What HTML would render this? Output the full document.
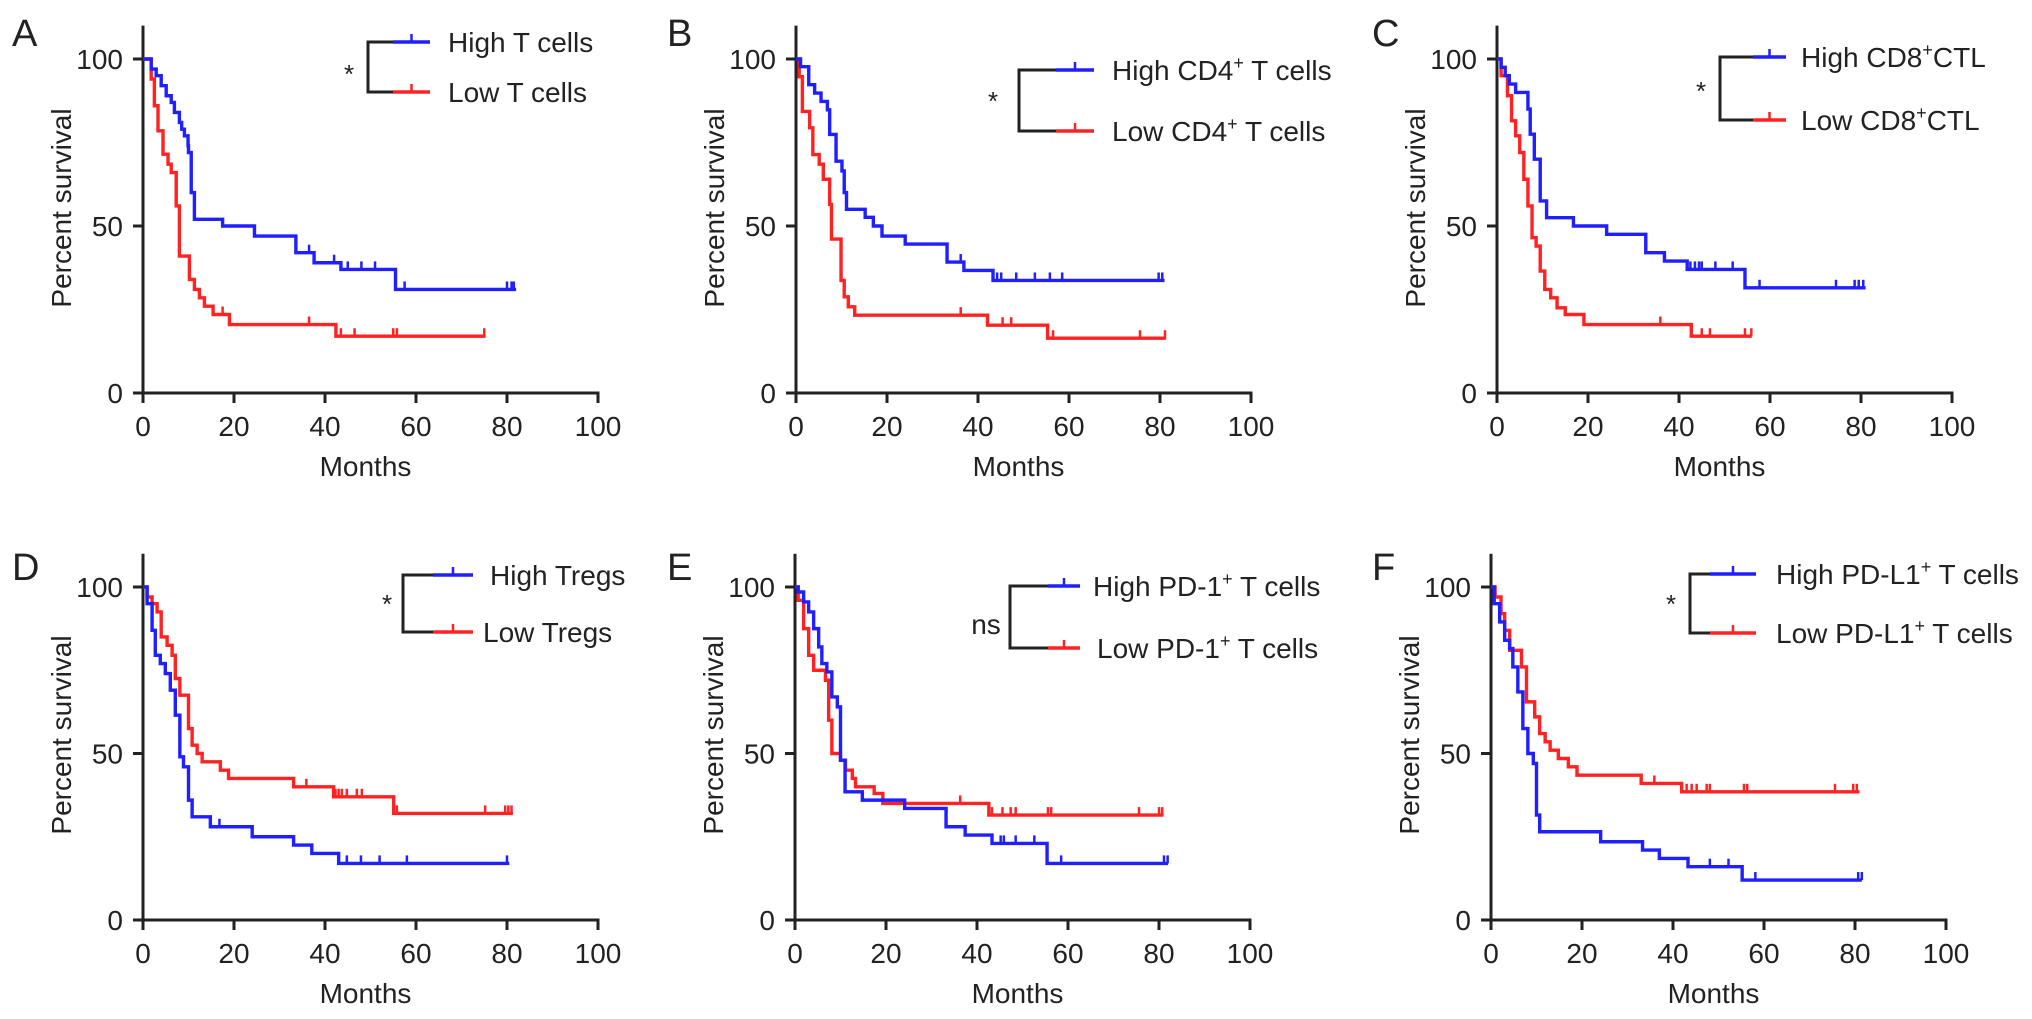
<!DOCTYPE html>
<html><head><meta charset="utf-8">
<style>
html,body{margin:0;padding:0;background:#fff;}
svg{display:block;font-family:"Liberation Sans",Arial,sans-serif;}
</style></head>
<body>
<svg id="fig" width="2032" height="1019" viewBox="0 0 2032 1019" xmlns="http://www.w3.org/2000/svg"></svg>
<script>
// ---- Panel A: T cells ----
const aHighT=[1.8,2.9,4,5.1,6.2,6.9,8,8.5,9.1,9.9,10,10.6,11.3,17.5,24.5,33.6,37.6,43.5,55.5];
const aHighS=[97,95,92,89,87,84,81,79,77,74,72,60,52,50,47,42,39,37,31];
const aHighC=[36.5,42,45,48,51,57.5,80,81,81.5];
const aHighEnd=[82];
const aLowT=[1.8,2.5,3.3,4.4,5.5,6.2,7.3,8,10.2,11.3,12.4,13.5,15.4,19,42.4];
const aLowS=[94,86,78.5,71.5,68.5,66,56,41,34,31,28.5,26,23.5,20.5,17];
const aLowC=[17.5,36.5,43.5,46.5,55,55.8,75];
const aLowEnd=[75.3];
// ---- Panel B: CD4+ ----
const bHighT=[1,2.8,4.1,5.5,6.9,7.4,8.8,10.1,10.6,11.1,15.2,17,18.9,24,33.2,36.9,43.3];
const bHighS=[97.7,92.3,89.8,87.3,84.8,77.4,69.4,66.5,60,55,52.6,50,47,44.6,39.2,36.7,33.7];
const bHighC=[36.2,44.2,45.1,48.4,52.5,55.8,58.5,79.7,80.5];
const bHighEnd=[81];
const bLowT=[0.7,1.4,3,3.7,5.1,6,7.4,7.8,9.9,10.6,11.5,12.9,42.1,55.3];
const bLowS=[94.7,84.3,79.4,71.4,68.5,64,56.5,46.1,33.7,28.8,25.8,23.3,20.3,16.4];
const bLowC=[36.2,45.4,47.3,56.5,75.6,81.1];
const bLowEnd=[81.3];
// ---- Panel C: CD8+ CTL ----
const cHighT=[0.9,1.8,2.7,4.1,6.8,7.3,8.2,9.5,10.9,16.8,24.1,32.7,36.8,41.8,54.5];
const cHighS=[97.5,95,92.5,90,85,77.5,70,57.5,52.5,50,47.5,42,39.5,37,31.5];
const cHighC=[42.5,43.5,44.4,45,48,51.8,57.7,74.5,78.6,79.5,80.5];
const cHighEnd=[81];
const cLowT=[0.9,2.3,3.2,4.1,5,5.9,6.8,7.7,8.6,9.5,10.5,11.8,13.2,15,19.1,42.7];
const cLowS=[95,89,81.5,77,72,64,56,46.5,44,36.5,31,28.5,25.5,23.5,20.5,17];
const cLowC=[35.9,45,46.8,54.5,55.9];
const cLowEnd=[56];
// ---- Panel D: Tregs ----
const dHighT=[0.9,2,2.7,3.8,4.9,6,7.1,8.1,8.9,10,10.8,14.8,24,33.1,37.1,43];
const dHighS=[95,87,79.5,77,74,69,61.5,49,46,36,31,28,25,22.5,20,17];
const dHighC=[16.8,44.8,47.9,52,58,80];
const dHighEnd=[80.5];
const dLowT=[0.9,2,3.1,4,5.3,6.4,7.1,8.1,10,10.8,11.9,13,17,18.8,33.1,41.9,55.1];
const dLowS=[97,95,92.5,85,82.5,79.5,72.5,67.5,57.5,52.5,50,47.5,45,42.5,40,37,32];
const dLowC=[35.9,42.3,43,43.7,44.8,47,48.1,55.8,75.2,79.6,80.3,81];
const dLowEnd=[81.3];
// ---- Panel E: PD-1+ ----
const eHighT=[0.7,1.9,3,4.1,5.2,5.9,7,8.1,9.3,10,11,14.8,24.1,33.2,37.4,43.3,55.4];
const eHighS=[98.5,95.5,92.5,87.5,82,77,74.5,67,64,48,38.5,36,33.5,28,25.5,23,17];
const eHighC=[45.2,45.9,48.5,52.6,58.5,81.1,81.9];
const eHighEnd=[82];
const eLowT=[0.7,1.9,3,4.1,6.7,7.4,8.1,10,11.1,12.6,13.3,17.4,19.3,42.6];
const eLowS=[96,87.5,79.5,75,72,60,50,48,45,42.5,40,38,35,31.5];
const eLowC=[36.3,43.3,45.6,47.4,48.5,55.6,56.3,75.6,80,80.7];
const eLowEnd=[81];
// ---- Panel F: PD-L1+ ----
const fHighT=[0.7,1.9,3,4.1,4.8,5.9,7,8.1,9.3,10,10.7,24.1,33.3,37,43.3,55.2];
const fHighS=[95,89.5,84,81.5,76,68.5,57.5,50,47,31.5,26.5,23.5,21,18.5,16,12];
const fHighC=[48.1,52.2,58.1,80.7,81.5];
const fHighEnd=[81.5];
const fLowT=[0.9,2.2,3,4.1,6.7,7.8,9.6,10.7,11.9,13,14.8,17,18.9,33,41.9];
const fLowS=[97,92,87,81,76,65.5,61,56,53.5,51,48.5,46,43.5,41,38.5];
const fLowC=[35.9,43,44.1,45.2,47.4,48.1,55.6,56.3,75.6,79.6,80.4];
const fLowEnd=[81];
// ---- axes ----
const xTicks=[0,20,40,60,80,100];
const yTicks=[0,50,100];

const NS="http://www.w3.org/2000/svg";
const svg=document.getElementById('fig');
function mk(tag,attrs,parent){const e=document.createElementNS(NS,tag);for(const k in attrs)e.setAttribute(k,attrs[k]);(parent||svg).appendChild(e);return e;}

const panels=[
 {letter:'A',lx:12,ly:46,x0:143,x100:598,y0:393,y100:59,
  hi:[aHighT,aHighS,aHighC,aHighEnd],lo:[aLowT,aLowS,aLowC,aLowEnd],
  leg:{bx1:368,bx2:393,yt:42,yb:92,lx2:430,tx1:448,tx2:448,sig:'*',sx:349,sy:83},
  hiLab:['High T cells'],loLab:['Low T cells']},
 {letter:'B',lx:667,ly:46,x0:796,x100:1251,y0:393,y100:59,
  hi:[bHighT,bHighS,bHighC,bHighEnd],lo:[bLowT,bLowS,bLowC,bLowEnd],
  leg:{bx1:1019,bx2:1056,yt:70,yb:131,lx2:1094,tx1:1112,tx2:1112,sig:'*',sx:993,sy:110},
  hiLab:['High CD4','+',' T cells'],loLab:['Low CD4','+',' T cells']},
 {letter:'C',lx:1372,ly:46,x0:1497,x100:1952,y0:393,y100:59,
  hi:[cHighT,cHighS,cHighC,cHighEnd],lo:[cLowT,cLowS,cLowC,cLowEnd],
  leg:{bx1:1720,bx2:1753,yt:57,yb:120,lx2:1786,tx1:1801,tx2:1801,sig:'*',sx:1701,sy:100},
  hiLab:['High CD8','+','CTL'],loLab:['Low CD8','+','CTL']},
 {letter:'D',lx:12,ly:580,x0:143,x100:598,y0:920,y100:587,
  hi:[dHighT,dHighS,dHighC,dHighEnd],lo:[dLowT,dLowS,dLowC,dLowEnd],
  leg:{bx1:403,bx2:433,yt:575,yb:632,lx2:473,tx1:490,tx2:483,sig:'*',sx:387,sy:613},
  hiLab:['High Tregs'],loLab:['Low Tregs']},
 {letter:'E',lx:667,ly:580,x0:795,x100:1250,y0:920,y100:587,
  hi:[eHighT,eHighS,eHighC,eHighEnd],lo:[eLowT,eLowS,eLowC,eLowEnd],
  leg:{bx1:1010,bx2:1048,yt:586,yb:648,lx2:1080,tx1:1093,tx2:1097,sig:'ns',sx:986,sy:634},
  hiLab:['High PD-1','+',' T cells'],loLab:['Low PD-1','+',' T cells']},
 {letter:'F',lx:1372,ly:580,x0:1491,x100:1946,y0:920,y100:587,
  hi:[fHighT,fHighS,fHighC,fHighEnd],lo:[fLowT,fLowS,fLowC,fLowEnd],
  leg:{bx1:1690,bx2:1710,yt:574,yb:633,lx2:1756,tx1:1776,tx2:1776,sig:'*',sx:1671,sy:613},
  hiLab:['High PD-L1','+',' T cells'],loLab:['Low PD-L1','+',' T cells']}
];
const BLUE='#1f1fff', RED='#ff2222', AX='#222';

function label(g,x,y,parts,name){
  const t=mk('text',{x:x,y:y,'font-size':28,fill:AX},g);
  
  
  parts.forEach((p,i)=>{
    const s=mk('tspan',i%2===1?{'font-size':18,dy:-11}:(i>0?{dy:11}:{}),t);
    s.textContent=p;
  });
}

panels.forEach(p=>{
  const g=mk('g',{});
  
  
  const X=t=>p.x0+(p.x100-p.x0)*t/100;
  const Y=s=>p.y0+(p.y100-p.y0)*s/100;
  const L=mk('text',{x:p.lx,y:p.ly,'font-size':38,fill:AX},g);
  
  
  L.textContent=p.letter;
  const ya=mk('line',{x1:p.x0,y1:Y(110),x2:p.x0,y2:p.y0+1.5,stroke:AX,'stroke-width':3},g);
  
  
  const xa=mk('line',{x1:p.x0-1.5,y1:p.y0,x2:X(100)+1.5,y2:p.y0,stroke:AX,'stroke-width':3},g);
  
  
  yTicks.forEach(v=>{
    mk('line',{x1:p.x0-10,y1:Y(v),x2:p.x0,y2:Y(v),stroke:AX,'stroke-width':3},g);
    const t=mk('text',{x:p.x0-20,y:Y(v)+10,'font-size':28,'text-anchor':'end',fill:AX},g);
    
    
    t.textContent=v;
  });
  xTicks.forEach(v=>{
    mk('line',{x1:X(v),y1:p.y0,x2:X(v),y2:p.y0+10,stroke:AX,'stroke-width':3},g);
    const t=mk('text',{x:X(v),y:p.y0+43,'font-size':28,'text-anchor':'middle',fill:AX},g);
    
    
    t.textContent=v;
  });
  const xt=mk('text',{x:(p.x0+X(100))/2-5,y:p.y0+83,'font-size':28,'text-anchor':'middle',fill:AX},g);
  
  
  xt.textContent='Months';
  const cy=p.y0-185;
  const yt=mk('text',{x:p.x0-72,y:cy,'font-size':28,'text-anchor':'middle',fill:AX,transform:`rotate(-90 ${p.x0-72} ${cy})`},g);
  
  
  yt.textContent='Percent survival';
  [[p.lo,RED,'low'],[p.hi,BLUE,'high']].forEach(([d,col,nm])=>{
    const [T,S,C,E]=d;
    let path=`M${X(0)},${Y(100)}`;
    for(let i=0;i<T.length;i++){path+=` H${X(T[i])} V${Y(S[i])}`;}
    path+=` H${X(E[0])}`;
    const pe=mk('path',{d:path,fill:'none',stroke:col,'stroke-width':3.4},g);
    
    
    C.forEach(c=>{
      let s=100;for(let i=0;i<T.length;i++){if(T[i]<=c)s=S[i];}
      const ct=mk('line',{x1:X(c),y1:Y(s),x2:X(c),y2:Y(s)-8,stroke:col,'stroke-width':2.5},g);
      
      
    });
  });
  const l=p.leg;
  const lg=mk('g',{},g);
  
  
  mk('path',{d:`M${l.bx2},${l.yt} H${l.bx1} V${l.yb} H${l.bx2}`,fill:'none',stroke:AX,'stroke-width':3},lg);
  mk('line',{x1:l.bx2,y1:l.yt,x2:l.lx2,y2:l.yt,stroke:BLUE,'stroke-width':3.4},lg);
  mk('line',{x1:(l.bx2+l.lx2)/2,y1:l.yt,x2:(l.bx2+l.lx2)/2,y2:l.yt-8,stroke:BLUE,'stroke-width':2.5},lg);
  mk('line',{x1:l.bx2,y1:l.yb,x2:l.lx2,y2:l.yb,stroke:RED,'stroke-width':3.4},lg);
  mk('line',{x1:(l.bx2+l.lx2)/2,y1:l.yb,x2:(l.bx2+l.lx2)/2,y2:l.yb-8,stroke:RED,'stroke-width':2.5},lg);
  label(lg,l.tx1,l.yt+10,p.hiLab,'legend-entry-high');
  label(lg,l.tx2,l.yb+10,p.loLab,'legend-entry-low');
  const sg=mk('text',{x:l.sx,y:l.sy,'font-size':l.sig==='ns'?28:26,'text-anchor':'middle',fill:AX},lg);
  
  
  sg.textContent=l.sig;
});
</script>
</body></html>
